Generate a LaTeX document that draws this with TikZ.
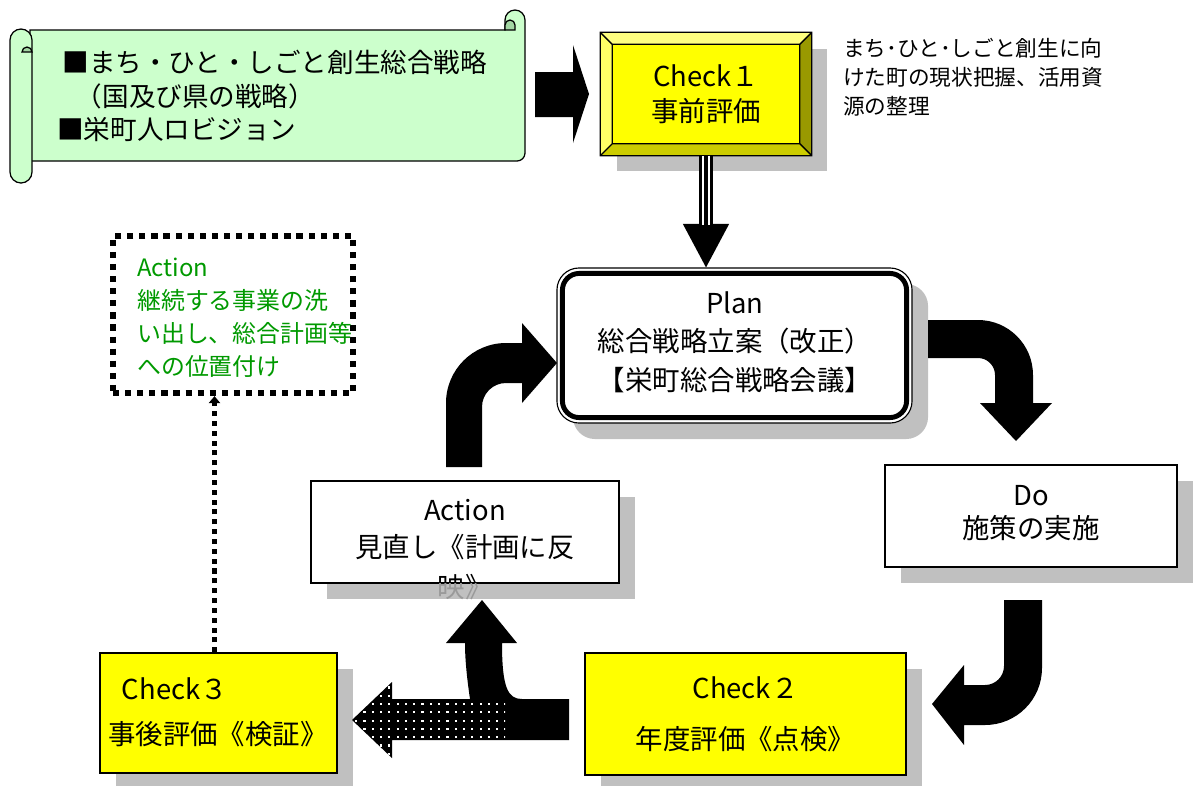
\documentclass[tikz,border=0pt]{standalone}
\usepackage{fontspec}
\setmainfont{Noto Sans CJK JP}
\usetikzlibrary{calc, positioning, shadows, arrows.meta}

\definecolor{scrollgreen}{HTML}{CCFFCC}
\definecolor{scrolldark}{HTML}{A3D6A3}
\definecolor{shade}{HTML}{C0C0C0}
\definecolor{chkyellow}{HTML}{FFFF00}
\definecolor{bevtop}{HTML}{FFFF80}
\definecolor{bevleft}{HTML}{FFFF66}
\definecolor{bevright}{HTML}{999900}
\definecolor{bevbottom}{HTML}{CCCC00}
\definecolor{actgreen}{HTML}{009900}
\definecolor{tailgray}{HTML}{9A9A9A}

\tikzset{
  shadowed/.style={drop shadow={shadow xshift=0.4cm, shadow yshift=-0.4cm, fill=shade, opacity=1}},
  plainbox/.style={draw, line width=1pt, fill=white, inner sep=0pt, shadowed},
  checkbox/.style={plainbox, fill=chkyellow},
  dottedbox/.style={draw, line width=4.4pt, dash pattern=on 4.4pt off 4.2pt, inner sep=0pt},
  scrollline/.style={draw=black, line width=0.9pt, fill=scrollgreen},
  bigtxt/.style={font=\fontsize{19.5}{#1}\selectfont, align=center, inner sep=0pt},
  bigtxt/.default=26pt,
  scrolltxt/.style={font=\fontsize{18.9}{23.8}\selectfont, align=left, inner sep=0pt},
  sidetxt/.style={font=\fontsize{15.4}{20.5}\selectfont, align=left, inner sep=0pt},
  greentxt/.style={font=\fontsize{17}{23.4}\selectfont, align=left, inner sep=0pt, text=actgreen},
}

\begin{document}
\begin{tikzpicture}[x=0.025cm, y=-0.025cm]
  \useasboundingbox (0,0) rectangle (1197,785);

  % scroll
  \filldraw[scrollline] (30,30) -- (505,30) -- (505,20) arc[start angle=180,end angle=360,radius=10]
    -- (525,153) arc[start angle=0,end angle=90,radius=8] -- (30,161) -- cycle;
  \filldraw[scrollline, fill=scrolldark] (505,30) -- (505,25) arc[start angle=180,end angle=360,radius=5] -- (515,30) -- cycle;
  \filldraw[scrollline] (10,40) arc[start angle=180,end angle=360,radius=11]
    -- (32,172) arc[start angle=0,end angle=180,radius=11] -- cycle;
  \filldraw[scrollline, fill=scrolldark] (22,52) arc[start angle=180,end angle=360,radius=5] -- cycle;
  \node[scrolltxt, anchor=west] (scrolltext) at (57,96)
    {\hspace{0.2em}■まち・ひと・しごと創生総合戦略\\\hspace{0.7em}（国及び県の戦略）\\■栄町人ロビジョン};

  % boxes
  \node[checkbox, minimum width=5.25cm, minimum height=3.05cm] (check1) at (706,94) {};
  \fill[bevtop] (check1.north west) -- (check1.north east) -- ($(check1.north east)+(-12,12)$) -- ($(check1.north west)+(12,12)$) -- cycle;
  \fill[bevright] (check1.north east) -- (check1.south east) -- ($(check1.south east)+(-12,-12)$) -- ($(check1.north east)+(-12,12)$) -- cycle;
  \fill[bevbottom] (check1.south east) -- (check1.south west) -- ($(check1.south west)+(12,-12)$) -- ($(check1.south east)+(-12,-12)$) -- cycle;
  \fill[bevleft] (check1.south west) -- (check1.north west) -- ($(check1.north west)+(12,12)$) -- ($(check1.south west)+(12,-12)$) -- cycle;
  \draw[line width=1pt] (check1.north west) rectangle (check1.south east)
    ($(check1.north west)+(12,12)$) rectangle ($(check1.south east)+(-12,-12)$)
    (check1.north west) -- +(12,12) (check1.north east) -- +(-12,12)
    (check1.south west) -- +(12,-12) (check1.south east) -- +(-12,-12);
  \node[bigtxt=24.8pt] (check1txt) at (check1.center) {Check１\\事前評価};
  \node[sidetxt, anchor=west] (sidenote) at (843,77) {まち･ひと･しごと創生に向\\けた町の現状把握、活用資\\源の整理};

  \node[plainbox, rounded corners=0.55cm, line width=0.8pt, minimum width=8.875cm, minimum height=3.875cm] (plan) at (734.5,345.5) {};
  \draw[line width=3.5pt, rounded corners=0.42cm] ($(plan.north west)+(6,6)$) rectangle ($(plan.south east)+(-6,-6)$);
  \node[bigtxt=27.3pt] (plantxt) at (735,342) {Plan\\総合戦略立案（改正）\\【栄町総合戦略会議】};

  \node[dottedbox, minimum width=6cm, minimum height=3.925cm] (green) at (233,314.5) {};
  \node[greentxt, anchor=west] (actionnote) at (137,318) {Action\\継続する事業の洗\\い出し、総合計画等\\への位置付け};

  \node[plainbox, minimum width=7.7cm, minimum height=2.55cm] (action) at (465,532) {};
  \node[bigtxt=26.2pt] (actiontxt) at (465,529.5) {Action\\見直し《計画に反};
  \begin{scope}
    \clip (action.north west) rectangle (action.south east);
    \node[bigtxt] (actiontail) at (465,587) {映》};
  \end{scope}
  \begin{scope}
    \clip (action.south west) rectangle ($(action.south east)+(20,40)$);
    \node[bigtxt, text=tailgray] (actiontailshade) at (465,587) {映》};
  \end{scope}

  \node[plainbox, minimum width=7.3cm, minimum height=2.55cm] (do) at (1031,516) {};
  \node[bigtxt=23.4pt] (dotxt) at (1031,513) {Do\\施策の実施};

  \node[checkbox, minimum width=8.025cm, minimum height=3.05cm] (check2) at (745.5,714) {};
  \node[bigtxt=36pt] (check2txt) at (745.5,714.5) {Check２\\年度評価《点検》};

  \node[checkbox, minimum width=5.925cm, minimum height=3cm] (check3) at (218.5,713) {};
  \node[bigtxt=32pt, align=left, anchor=west] (check3txt) at (108,712.5) {\hspace{0.5em}Check３\\事後評価《検証》};

  % connectors
  \draw[line width=10pt, -{Triangle[width=33pt,length=31pt,line width=0pt]}] (check1.south) -- (check1.south |- plan.north);
  \draw[white, line width=5.6pt, shorten >=30pt] (check1.south) -- (check1.south |- plan.north);
  \draw[line width=2.2pt, shorten >=30pt] (check1.south) -- (check1.south |- plan.north);

  \draw[line width=3.4pt, dash pattern=on 3.6pt off 3.4pt, -{Triangle[width=8pt,length=5pt]}]
    ([xshift=-0.1cm]check3.north) -- ([xshift=-0.1cm]check3.north |- green.south);

  % block arrows
  \fill (535,72) -- (573,72) -- (573,45) -- (589,94) -- (573,143) -- (573,117) -- (535,117) -- cycle;
  \fill (928,320) -- (978,320) arc[start angle=270,end angle=360,radius=55] -- (1033,403) -- (1052,403)
    -- (1016,441) -- (980,403) -- (995,403) -- (995,375) arc[start angle=0,end angle=-90,radius=17] -- (928,358) -- cycle;
  \fill (1004,600) -- (1042,600) -- (1042,668) arc[start angle=0,end angle=90,radius=57] -- (964,725) -- (964,745)
    -- (932,704) -- (964,665) -- (964,685) -- (985,685) arc[start angle=90,end angle=0,radius=19] -- cycle;
  \fill (446,467) -- (446,403) arc[start angle=180,end angle=270,radius=60] -- (522,343) -- (522,323)
    -- (557,363) -- (522,403) -- (522,383) -- (506,383) arc[start angle=270,end angle=180,radius=24] -- (482,467) -- cycle;
  \fill (569,699) -- (569,740) -- (392,740) -- (392,758) -- (352,720) -- (392,682) -- (392,699) -- (470,699)
    .. controls (466,672) and (465,655) .. (465,643) -- (446,643) -- (482,600) -- (517,643) -- (502,643)
    .. controls (502,688) and (508,699) .. (522,699) -- cycle;
  \begin{scope}
    \clip (505,699) -- (392,699) -- (392,682) -- (352,720) -- (392,758) -- (392,740) -- (505,740) -- cycle;
    \foreach \i in {0,...,18}
      \foreach \j in {0,...,9}
        \fill[white] (355+\i*8.3, 678+\j*8.3) rectangle +(2.2,2.2);
  \end{scope}
\end{tikzpicture}
\end{document}
